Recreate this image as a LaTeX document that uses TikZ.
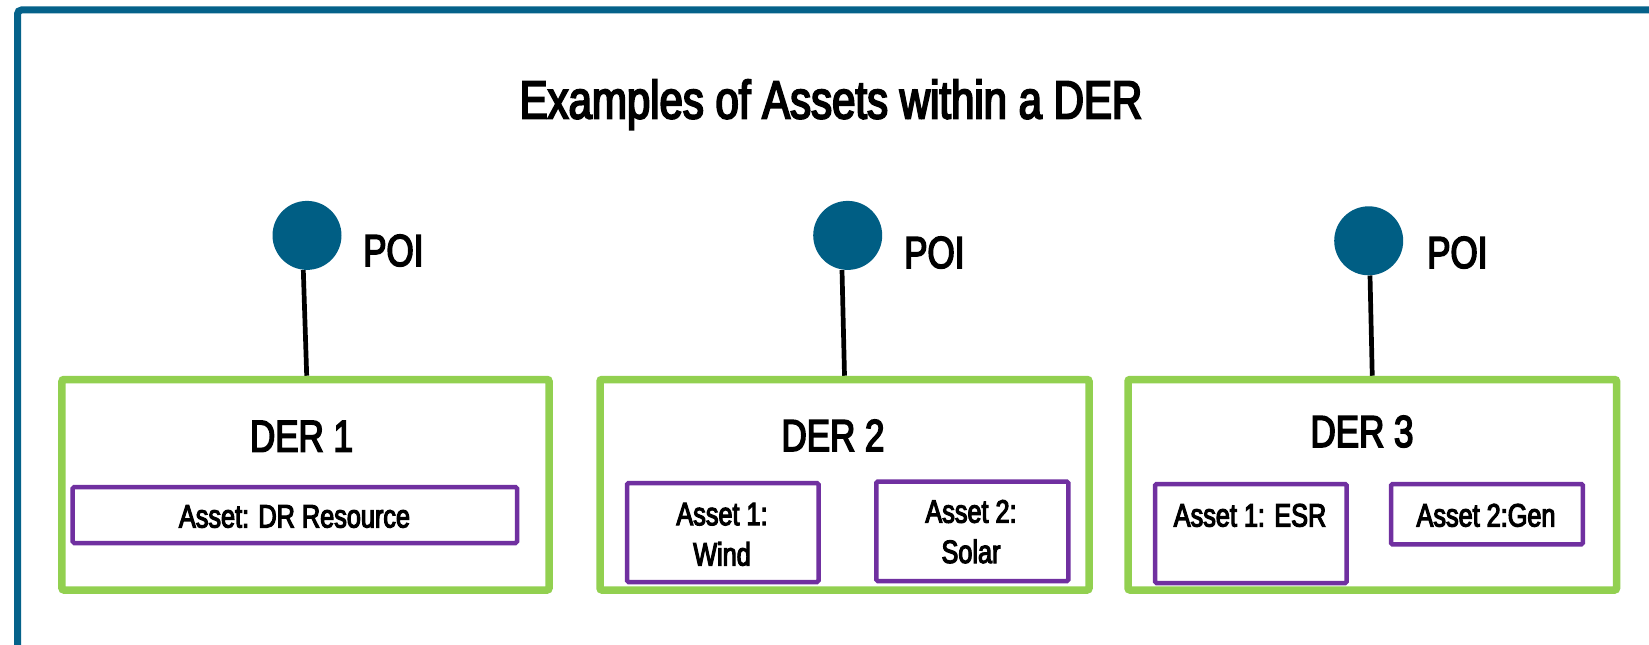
\documentclass[tikz,border=0pt]{standalone}
\usepackage{fontspec}
\setmainfont{Liberation Sans}[FakeStretch=0.78,FakeBold=3.5]
\usetikzlibrary{backgrounds}

\definecolor{framecol}{RGB}{5,98,138}
\definecolor{poicol}{RGB}{0,94,132}
\definecolor{dergreen}{RGB}{146,208,80}
\definecolor{assetpurple}{RGB}{112,48,160}

\begin{document}
\begin{tikzpicture}[x=1bp,y=-1bp,
  derbox/.style={rectangle,draw=dergreen,line width=7.5bp,rounded corners=2bp,inner sep=0pt},
  assetbox/.style={rectangle,draw=assetpurple,line width=4.5bp,rounded corners=1.5bp,inner sep=0pt},
  poidot/.style={circle,fill=poicol,minimum size=69bp,inner sep=0pt},
  link/.style={line width=4.7bp,black},
  titletext/.style={anchor=base,inner sep=0pt,font=\fontsize{54}{62}\selectfont},
  labeltext/.style={anchor=base,inner sep=0pt,font=\fontsize{45}{52}\selectfont},
  assettext/.style={anchor=base,inner sep=0pt,align=center,font=\fontsize{32.5}{40.5}\selectfont},
]
\path[use as bounding box] (0,0) rectangle (1649,645);
\clip (0,0) rectangle (1649,645);

% outer frame (open to the right and bottom)
\draw[framecol,line width=7bp,rounded corners=4bp] (17.5,700) -- (17.5,10) -- (1700,10);

% title
\node[titletext] (title) at (831,118.5) {Examples of Assets within a DER};

% points of interconnection
\node[poidot] (poi1) at (307,235.4) {};
\node[poidot] (poi2) at (847.7,235.4) {};
\node[poidot] (poi3) at (1368.7,240.8) {};
\node[labeltext,anchor=base west] (poilab1) at (363,266) {POI};
\node[labeltext,anchor=base west] (poilab2) at (904,268) {POI};
\node[labeltext,anchor=base west] (poilab3) at (1427,268) {POI};

% DER containers
\node[derbox,minimum width=487bp,minimum height=210.5bp] (der1) at (305.5,484.75) {};
\node[derbox,minimum width=489bp,minimum height=210.5bp] (der2) at (844.5,484.75) {};
\node[derbox,minimum width=488.5bp,minimum height=210.5bp] (der3) at (1372.25,484.75) {};
\node[labeltext] (derlab1) at (301.5,451.7) {DER 1};
\node[labeltext] (derlab2) at (833,451) {DER 2};
\node[labeltext] (derlab3) at (1362,447) {DER 3};

% assets
\node[assetbox,minimum width=444.3bp,minimum height=56bp] (a1) at (294.9,515) {};
\node[assetbox,minimum width=191.5bp,minimum height=99bp] (a21) at (722.75,532.5) {};
\node[assetbox,minimum width=192bp,minimum height=99.5bp] (a22) at (972.3,531.25) {};
\node[assetbox,minimum width=191.7bp,minimum height=99bp] (a31) at (1250.85,533.5) {};
\node[assetbox,minimum width=191.8bp,minimum height=60.4bp] (a32) at (1486.9,514.2) {};

% asset labels (two-line labels are placed by their last line)
\node[assettext] (t1) at (294.5,527.5) {Asset: DR Resource};
\node[assettext] (t21) at (722,565.5) {Asset 1:\\Wind};
\node[assettext] (t22) at (971,563) {Asset 2:\\Solar};
\node[assettext] (t31) at (1250,526.5) {Asset 1: ESR};
\node[assettext] (t32) at (1486,526.5) {Asset 2:Gen};

% connections from each POI down to its DER
\begin{scope}[on background layer]
\fill[white] (0,0) rectangle (1649,645);
\draw[link] ([xshift=-3.7bp]poi1.south) -- ([xshift=1.2bp]der1.north);
\draw[link] ([xshift=-5.7bp]poi2.south) -- (der2.north);
\draw[link] ([xshift=1.3bp]poi3.south) -- (der3.north);
\end{scope}
\end{tikzpicture}
\end{document}
